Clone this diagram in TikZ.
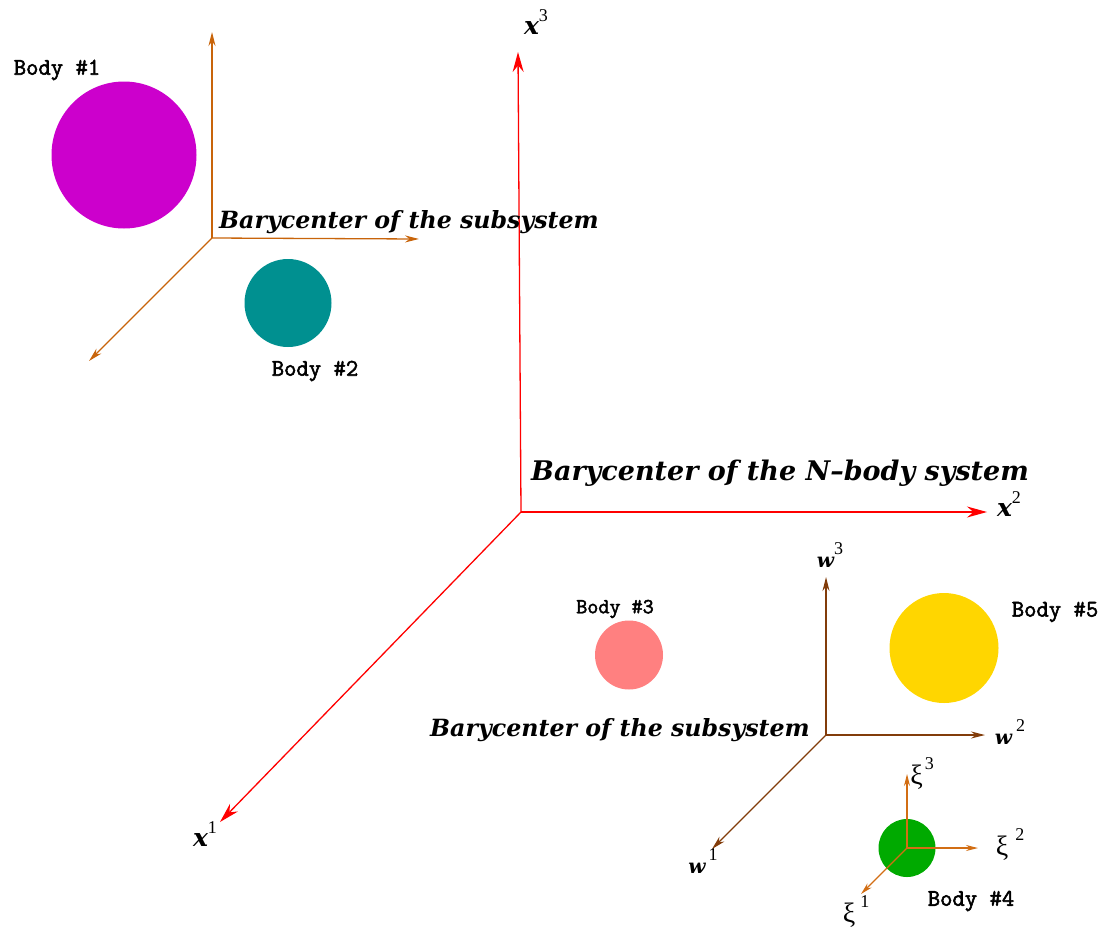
\documentclass[tikz,border=0pt]{standalone}
\usepackage{fontspec}
\newfontfamily\baryfont{DejaVu Serif}
\newfontfamily\grkfont{Liberation Serif}
\newfontfamily\bodyfont[AutoFakeBold=2.2]{Latin Modern Mono}
\usetikzlibrary{arrows.meta,shapes.geometric}

% Colours of the bodies and of the frames
\definecolor{bodyone}{RGB}{204,0,204}
\definecolor{bodytwo}{RGB}{0,144,144}
\definecolor{bodythree}{RGB}{255,128,128}
\definecolor{bodyfour}{RGB}{0,170,0}
\definecolor{bodyfive}{RGB}{255,214,0}
\definecolor{subaxiscol}{RGB}{200,100,10}
\definecolor{waxiscol}{RGB}{130,60,10}
\definecolor{xiaxiscol}{RGB}{210,110,20}

% Axis names with an upright index
\newcommand{\axname}[3]{{\baryfont\bfseries\itshape\fontsize{#3}{#3}\selectfont #1}{\grkfont\fontsize{18}{18}\selectfont\raisebox{0.75em}{#2}}}
\newcommand{\xiname}[1]{{\grkfont\fontsize{28}{28}\selectfont ξ\hspace{2pt}\raisebox{15pt}{\fontsize{18}{18}\selectfont #1}}}

\tikzset{
  mainaxis/.style={red, line width=1.3pt, -{Stealth[length=20pt,width=11pt]}},
  subaxis/.style={subaxiscol, line width=1.3pt, -{Stealth[length=14pt,width=7pt]}},
  waxis/.style={waxiscol, line width=1.3pt, -{Stealth[length=14pt,width=7pt]}},
  xiaxis/.style={xiaxiscol, line width=1.3pt, -{Stealth[length=12pt,width=6pt]}},
  body/.style={ellipse, inner sep=0pt},
  bodylabel/.style={font=\bodyfont\bfseries\fontsize{24}{26}\selectfont},
  barylabel/.style={font=\baryfont\bfseries\itshape\fontsize{23.7}{28}\selectfont, inner sep=0pt},
  axislabel/.style={inner sep=0pt}
}

\begin{document}
\begin{tikzpicture}[x=1pt, y=-1pt]
\useasboundingbox (0,0) rectangle (1108,935);

% Main frame of the N-body system
\coordinate (O) at (521,512);
\node[axislabel] (x3) at (536,22) {\axname{x}{3}{25}};
\node[axislabel] (x2) at (1009,504) {\axname{x}{2}{25}};
\node[axislabel] (x1) at (205,834) {\axname{x}{1}{25}};
\draw[mainaxis] (O) -- (518,52);
\draw[mainaxis] (O) -- (987,512);
\draw[mainaxis] (O) -- (220,822);
\node[barylabel, anchor=west, font=\baryfont\bfseries\itshape\fontsize{27}{32}\selectfont] (nbary) at (531,473) {Barycenter of the N–body system};

% First subsystem: bodies 1 and 2
\coordinate (S) at (212,238);
\draw[subaxis] (S) -- (212,32);
\draw[subaxis] (S) -- (419,239);
\draw[subaxis] (S) -- (89,361);
\node[barylabel, anchor=west] (sbary) at (219,222) {Barycenter of the subsystem};
\node[body, fill=bodyone, minimum width=145pt, minimum height=147pt] (b1) at (124,155) {};
\node[bodylabel] (l1) at (57,70) {Body \#1};
\node[body, fill=bodytwo, minimum width=87pt, minimum height=88pt] (b2) at (288,303) {};
\node[bodylabel] (l2) at (315,371) {Body \#2};

% Second subsystem: bodies 3, 4 and 5
\node[body, fill=bodythree, minimum width=68pt, minimum height=69pt] (b3) at (629,655) {};
\node[bodylabel, font=\bodyfont\bfseries\fontsize{21.5}{24}\selectfont] (l3) at (615,609) {Body \#3};
\node[body, fill=bodyfive, minimum width=109pt, minimum height=110pt] (b5) at (944,648) {};
\node[bodylabel] (l5) at (1055,612) {Body \#5};
\node[body, fill=bodyfour, minimum width=57pt, minimum height=58pt] (b4) at (907,848) {};
\node[bodylabel] (l4) at (971,901) {Body \#4};

\coordinate (W) at (826,735);
\draw[waxis] (W) -- (826,577);
\draw[waxis] (W) -- (985,735);
\draw[waxis] (W) -- (712,849);
\node[axislabel] (w3) at (830,555) {\axname{w}{3}{20}};
\node[axislabel] (w2) at (1010,732) {\axname{w}{\hspace{4pt}2}{20}};
\node[axislabel] (w1) at (703,861) {\axname{w}{\hspace{3pt}1}{20}};
\node[barylabel, anchor=east] (wbary) at (810,730) {Barycenter of the subsystem};

% Local frame of body 4
\coordinate (X) at (907,848);
\draw[xiaxis] (X) -- (907,774);
\draw[xiaxis] (X) -- (978,848);
\draw[xiaxis] (X) -- (861,894);
\node[axislabel] (xi3) at (922,774) {\xiname{3}};
\node[axislabel] (xi2) at (1010,845) {\xiname{\hspace{5pt}2}};
\node[axislabel] (xi1) at (856,912) {\xiname{\hspace{3pt}1}};
\end{tikzpicture}
\end{document}
